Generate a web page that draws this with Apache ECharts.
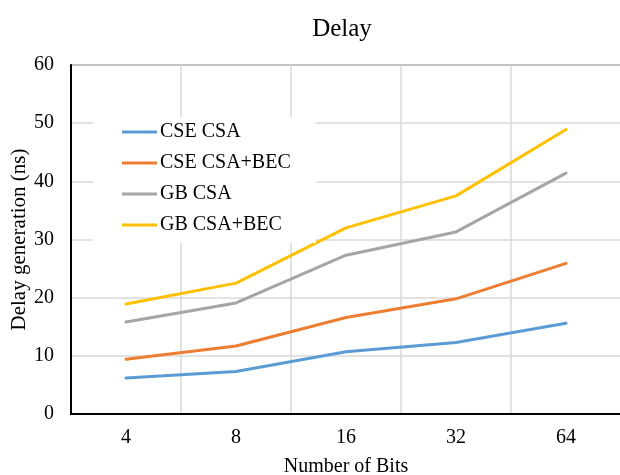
<!DOCTYPE html>
<html lang="en">
<head>
  <meta charset="UTF-8">
  <title>Delay</title>
  <style>
    html, body { margin: 0; padding: 0; background: #fff; }
    #chart { width: 620px; height: 475px; }
  </style>
</head>
<body>
  <div id="chart"></div>
  <script src="https://cdn.jsdelivr.net/npm/echarts@6/dist/echarts.min.js"></script>
  <script>
    // data
    const bits = ['4', '8', '16', '32', '64']
    const cseCsa = [6.2, 7.3, 10.7, 12.3, 15.6]
    const cseCsaBec = [9.4, 11.7, 16.6, 19.8, 25.9]
    const gbCsa = [15.8, 19.1, 27.3, 31.3, 41.4]
    const gbCsaBec = [18.9, 22.5, 32.0, 37.5, 48.9]
    const yTicks = [0, 10, 20, 30, 40, 50, 60]

    const seriesList = [
      { name: 'CSE CSA', data: cseCsa, color: '#5B9BD5' },
      { name: 'CSE CSA+BEC', data: cseCsaBec, color: '#ED7D31' },
      { name: 'GB CSA', data: gbCsa, color: '#A5A5A5' },
      { name: 'GB CSA+BEC', data: gbCsaBec, color: '#FFC000' }
    ]

    const font = '"Liberation Serif", "DejaVu Serif", serif'
    const chart = echarts.init(document.getElementById('chart'))

    chart.setOption({
      animation: false,
      title: {
        text: 'Delay',
        left: 337,
        textAlign: 'center',
        top: 12,
        textStyle: { fontFamily: font, fontSize: 25, fontWeight: 'normal', color: '#000' }
      },
      grid: {
        left: 71,
        top: 65,
        width: 550,
        height: 349,
        show: true,
        borderColor: '#595959',
        borderWidth: 1.5,
        containLabel: false,
        outerBoundsMode: 'none'
      },
      legend: {
        left: 93,
        top: 117,
        orient: 'vertical',
        backgroundColor: '#fff',
        padding: [5, 25, 8, 29],
        itemGap: 11,
        icon: 'rect',
        itemWidth: 35,
        itemHeight: 3,
        textStyle: { fontFamily: font, fontSize: 20, lineHeight: 20, color: '#000', padding: [0, 0, 0, -2] },
        data: seriesList.map(s => s.name)
      },
      xAxis: {
        type: 'category',
        data: bits,
        boundaryGap: true,
        name: 'Number of Bits',
        nameLocation: 'middle',
        nameGap: 43,
        nameTextStyle: { fontFamily: font, fontSize: 20, color: '#000' },
        axisLine: { lineStyle: { color: '#000', width: 2 } },
        axisTick: { show: false },
        axisLabel: { fontFamily: font, fontSize: 20, color: '#000', margin: 14 },
        splitLine: { show: true, lineStyle: { color: '#d9d9d9', width: 1.5 } }
      },
      yAxis: {
        type: 'value',
        min: yTicks[0],
        max: yTicks[yTicks.length - 1],
        interval: 10,
        name: 'Delay generation (ns)',
        nameLocation: 'middle',
        nameRotate: 90,
        nameGap: 41,
        nameMoveOverlap: false,
        nameTextStyle: { fontFamily: font, fontSize: 21, color: '#000' },
        axisLine: { show: true, lineStyle: { color: '#000', width: 2 } },
        axisTick: { show: false },
        axisLabel: { fontFamily: font, fontSize: 20, color: '#000', margin: 17 },
        splitLine: { show: true, lineStyle: { color: '#d9d9d9', width: 1.5 } }
      },
      series: seriesList.map(s => ({
        name: s.name,
        type: 'line',
        data: s.data,
        color: s.color,
        showSymbol: false,
        symbol: 'none',
        lineStyle: { width: 3, color: s.color, cap: 'round', join: 'round' }
      }))
    })
  </script>
</body>
</html>
